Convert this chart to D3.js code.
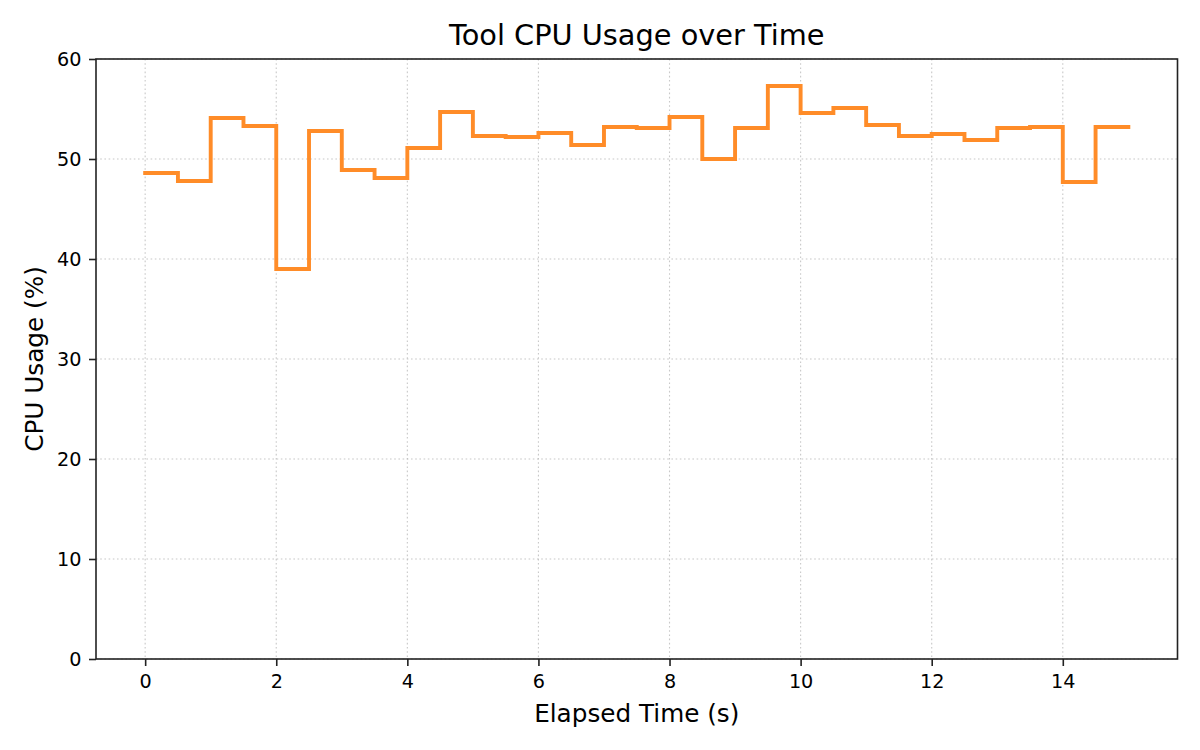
<!DOCTYPE html>
<html><head><meta charset="utf-8">
<script src="https://cdn.jsdelivr.net/npm/d3@7/dist/d3.min.js"></script>
<style>body{margin:0;background:#fff}svg{display:block}</style>
</head><body>
<script>
const times = [0,0.5,1,1.5,2,2.5,3,3.5,4,4.5,5,5.5,6,6.5,7,7.5,8,8.5,9,9.5,10,10.5,11,11.5,12,12.5,13,13.5,14,14.5,15];
const cpu = [48.6,47.8,54.1,53.3,39.0,52.8,48.9,48.1,51.1,54.7,52.3,52.2,52.6,51.4,53.2,53.1,54.2,50.0,53.1,57.3,54.6,55.1,53.4,52.3,52.5,51.9,53.1,53.2,47.7,53.2,53.2];
const xTicks = [0,2,4,6,8,10,12,14];
const yTicks = [0,10,20,30,40,50,60];

const W=1200,H=750;
const m={left:96,right:1177.5,top:59,bottom:659};
const FONT="DejaVu Sans, sans-serif";
const svg=d3.select("body").append("svg").attr("width",W).attr("height",H).style("font-family",FONT);
const x=d3.scaleLinear().domain([-0.75,15.75]).range([m.left,m.right]);
const y=d3.scaleLinear().domain([0,60]).range([m.bottom,m.top]);

// grid
const g=svg.append("g");
g.selectAll(".gx").data(xTicks).enter().append("line")
 .attr("x1",d=>x(d)).attr("x2",d=>x(d)).attr("y1",m.top).attr("y2",m.bottom)
 .attr("stroke","#b0b0b0").attr("stroke-opacity",0.7).attr("stroke-width",1.1).attr("stroke-dasharray","1.6,2.6");
g.selectAll(".gy").data(yTicks).enter().append("line")
 .attr("y1",d=>y(d)).attr("y2",d=>y(d)).attr("x1",m.left).attr("x2",m.right)
 .attr("stroke","#b0b0b0").attr("stroke-opacity",0.7).attr("stroke-width",1.1).attr("stroke-dasharray","1.6,2.6");

// line
const line=d3.line().x((d,i)=>x(times[i])).y(d=>y(d)).curve(d3.curveStepAfter);
svg.append("path").datum(cpu).attr("d",line).attr("fill","none")
 .attr("stroke","#ff8c28").attr("stroke-width",3.9).attr("stroke-linejoin","miter").attr("stroke-linecap","square");

// axes
const xAxis=d3.axisBottom(x).tickValues(xTicks).tickSize(7).tickPadding(8.5).tickFormat(d3.format("d"));
const yAxis=d3.axisLeft(y).tickValues(yTicks).tickSize(7).tickPadding(7.5).tickFormat(d3.format("d"));
const ax=svg.append("g").attr("transform",`translate(0,${m.bottom})`).call(xAxis);
const ay=svg.append("g").attr("transform",`translate(${m.left},0)`).call(yAxis);
[ax,ay].forEach(a=>{a.attr("font-family",FONT).attr("font-size",19.2);
 a.select(".domain").remove();a.selectAll("line").attr("stroke","#222").attr("stroke-width",1.6);
 a.selectAll("text").attr("fill","#000");});
svg.append("rect").attr("x",m.left).attr("y",m.top).attr("width",m.right-m.left).attr("height",m.bottom-m.top)
 .attr("fill","none").attr("stroke","#222").attr("stroke-width",1.6);

svg.append("text").attr("x",(m.left+m.right)/2).attr("y",45).attr("text-anchor","middle").attr("font-size",28.8).text("Tool CPU Usage over Time");
svg.append("text").attr("x",(m.left+m.right)/2).attr("y",722).attr("text-anchor","middle").attr("font-size",24.7).text("Elapsed Time (s)");
svg.append("text").attr("transform",`translate(43,${(m.top+m.bottom)/2}) rotate(-90)`).attr("text-anchor","middle").attr("font-size",24.7).text("CPU Usage (%)");
</script>
</body></html>
